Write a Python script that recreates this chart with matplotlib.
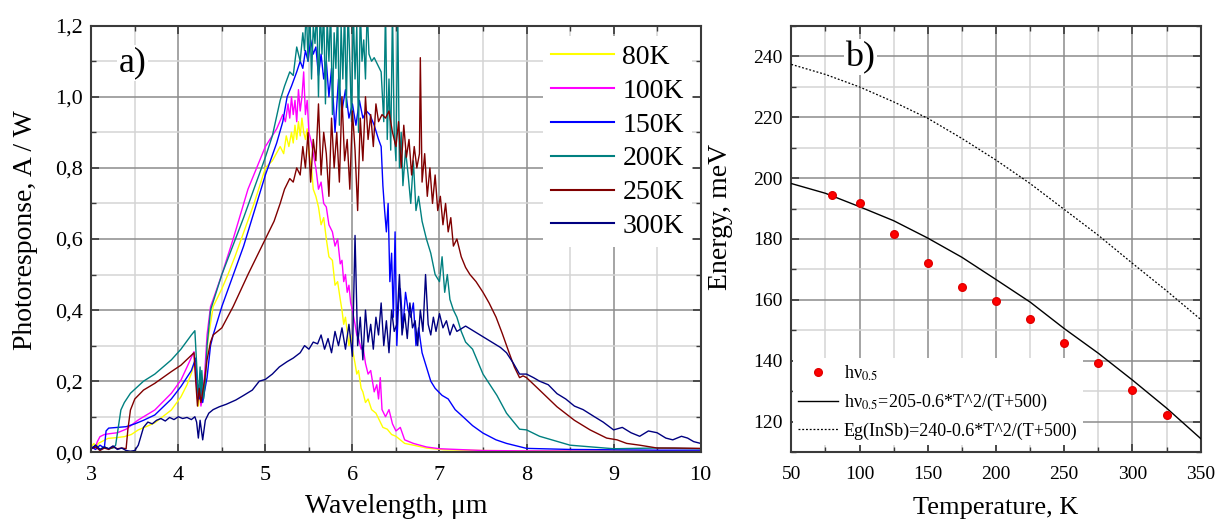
import matplotlib
matplotlib.use("Agg")
import matplotlib.pyplot as plt
from matplotlib import ticker

plt.rcParams['font.family'] = ['Liberation Serif', 'DejaVu Serif']
plt.rcParams['mathtext.fontset'] = 'stix'

# ---- a) photoresponse spectra ----
wl_80 = [3.00, 3.03, 3.06, 3.08, 3.12, 3.19, 3.28, 3.38, 3.46, 3.54,
         3.63, 3.73, 3.82, 3.92, 4.03, 4.10, 4.15, 4.19, 4.21, 4.23,
         4.245, 4.26, 4.28, 4.30, 4.34, 4.40, 4.50, 4.57, 4.65, 4.76,
         4.87, 5.00, 5.08, 5.17, 5.21, 5.24, 5.27, 5.30, 5.32, 5.34,
         5.36, 5.38, 5.40, 5.42, 5.44, 5.46, 5.48, 5.50, 5.53, 5.55,
         5.58, 5.61, 5.64, 5.67, 5.70, 5.73, 5.77, 5.80, 5.83, 5.86,
         5.88, 5.90, 5.92, 5.94, 5.96, 5.98, 6.00, 6.03, 6.05, 6.07,
         6.10, 6.12, 6.15, 6.18, 6.22, 6.27, 6.31, 6.35, 6.40, 6.45,
         6.50, 6.60, 6.70, 6.85, 7.05, 7.50, 8.00, 9.00, 10.0]
pr_80 = [0.015, 0.025, 0.012, 0.025, 0.030, 0.039, 0.041, 0.044, 0.050, 0.063,
         0.072, 0.083, 0.100, 0.119, 0.156, 0.190, 0.222, 0.255, 0.200, 0.130,
         0.160, 0.140, 0.170, 0.200, 0.316, 0.410, 0.460, 0.500, 0.550, 0.625,
         0.700, 0.800, 0.820, 0.860, 0.840, 0.890, 0.860, 0.900, 0.870, 0.920,
         0.880, 0.930, 0.890, 0.940, 0.900, 0.880, 0.910, 0.840, 0.800, 0.740,
         0.720, 0.690, 0.640, 0.660, 0.600, 0.550, 0.540, 0.470, 0.480, 0.430,
         0.400, 0.360, 0.380, 0.340, 0.300, 0.330, 0.290, 0.250, 0.220, 0.230,
         0.180, 0.170, 0.140, 0.150, 0.120, 0.110, 0.090, 0.070, 0.065, 0.050,
         0.045, 0.025, 0.020, 0.012, 0.007, 0.005, 0.004, 0.004, 0.004]

wl_100 = [3.00, 3.04, 3.07, 3.10, 3.15, 3.20, 3.30, 3.40, 3.54, 3.73,
          3.92, 4.03, 4.10, 4.18, 4.20, 4.22, 4.24, 4.26, 4.28, 4.30,
          4.33, 4.37, 4.40, 4.50, 4.63, 4.80, 5.00, 5.13, 5.20, 5.23,
          5.26, 5.28, 5.30, 5.32, 5.34, 5.36, 5.38, 5.40, 5.42, 5.44,
          5.46, 5.48, 5.50, 5.53, 5.55, 5.58, 5.61, 5.64, 5.67, 5.70,
          5.73, 5.77, 5.80, 5.83, 5.86, 5.88, 5.90, 5.92, 5.94, 5.96,
          5.98, 6.00, 6.03, 6.05, 6.07, 6.10, 6.12, 6.15, 6.18, 6.21,
          6.25, 6.28, 6.30, 6.32, 6.34, 6.38, 6.42, 6.46, 6.50, 6.55,
          6.60, 6.70, 6.85, 7.00, 7.50, 8.00, 9.00, 10.0]
pr_100 = [0.015, 0.010, 0.030, 0.044, 0.050, 0.052, 0.055, 0.065, 0.091, 0.119,
          0.166, 0.203, 0.240, 0.283, 0.220, 0.150, 0.190, 0.130, 0.160, 0.210,
          0.330, 0.410, 0.430, 0.500, 0.600, 0.740, 0.860, 0.910, 0.950, 0.930,
          0.980, 0.940, 1.000, 0.950, 0.990, 0.930, 1.020, 0.960, 1.000, 1.070,
          0.950, 0.990, 0.900, 0.870, 0.840, 0.800, 0.740, 0.760, 0.700, 0.690,
          0.640, 0.620, 0.580, 0.600, 0.530, 0.540, 0.480, 0.500, 0.450, 0.470,
          0.420, 0.400, 0.360, 0.330, 0.320, 0.290, 0.300, 0.250, 0.220, 0.230,
          0.170, 0.190, 0.150, 0.210, 0.120, 0.100, 0.120, 0.080, 0.060, 0.070,
          0.035, 0.025, 0.015, 0.010, 0.005, 0.004, 0.003, 0.003]

wl_150 = [3.00, 3.05, 3.10, 3.15, 3.17, 3.20, 3.30, 3.40, 3.50, 3.60,
          3.73, 3.92, 4.03, 4.15, 4.20, 4.22, 4.24, 4.26, 4.28, 4.30,
          4.33, 4.37, 4.40, 4.50, 4.75, 5.00, 5.13, 5.20, 5.25, 5.30,
          5.36, 5.40, 5.43, 5.46, 5.49, 5.52, 5.55, 5.58, 5.61, 5.64,
          5.67, 5.70, 5.73, 5.76, 5.80, 5.84, 5.88, 5.92, 5.96, 6.00,
          6.04, 6.08, 6.12, 6.16, 6.20, 6.25, 6.30, 6.33, 6.35, 6.37,
          6.39, 6.41, 6.43, 6.45, 6.47, 6.49, 6.51, 6.53, 6.55, 6.58,
          6.61, 6.64, 6.67, 6.70, 6.73, 6.76, 6.80, 6.85, 6.90, 6.95,
          7.03, 7.10, 7.18, 7.27, 7.38, 7.50, 7.65, 7.77, 8.00, 8.50,
          9.00, 9.50, 10.0]
pr_150 = [0.015, 0.008, 0.020, 0.012, 0.060, 0.068, 0.070, 0.072, 0.080, 0.090,
          0.105, 0.150, 0.185, 0.230, 0.265, 0.180, 0.150, 0.200, 0.140, 0.170,
          0.210, 0.300, 0.330, 0.410, 0.580, 0.780, 0.870, 0.930, 1.000, 1.030,
          1.070, 1.100, 1.080, 1.130, 1.100, 1.160, 1.120, 1.140, 1.060, 1.120,
          1.050, 1.100, 1.000, 1.080, 0.900, 1.050, 0.960, 1.020, 0.940, 0.980,
          0.920, 0.990, 0.940, 0.960, 0.950, 0.920, 0.880, 0.860, 0.750, 0.680,
          0.620, 0.700, 0.480, 0.560, 0.380, 0.620, 0.300, 0.420, 0.460, 0.350,
          0.450, 0.400, 0.380, 0.420, 0.300, 0.350, 0.280, 0.240, 0.200, 0.180,
          0.160, 0.150, 0.120, 0.100, 0.075, 0.054, 0.035, 0.025, 0.011, 0.008,
          0.007, 0.006, 0.006]

wl_200 = [3.00, 3.05, 3.10, 3.15, 3.20, 3.25, 3.28, 3.34, 3.38, 3.45,
          3.60, 3.73, 3.92, 4.03, 4.15, 4.19, 4.21, 4.23, 4.25, 4.26,
          4.27, 4.29, 4.31, 4.33, 4.37, 4.50, 4.75, 5.00, 5.08, 5.17,
          5.22, 5.28, 5.32, 5.36, 5.40, 5.43, 5.45, 5.47, 5.49, 5.51,
          5.53, 5.55, 5.57, 5.59, 5.61, 5.63, 5.65, 5.67, 5.69, 5.71,
          5.73, 5.75, 5.77, 5.79, 5.81, 5.83, 5.85, 5.87, 5.89, 5.91,
          5.93, 5.95, 5.97, 5.99, 6.01, 6.03, 6.05, 6.07, 6.09, 6.11,
          6.13, 6.15, 6.17, 6.19, 6.22, 6.25, 6.29, 6.33, 6.36, 6.38,
          6.40, 6.42, 6.44, 6.46, 6.48, 6.50, 6.52, 6.54, 6.56, 6.58,
          6.61, 6.64, 6.67, 6.70, 6.73, 6.76, 6.80, 6.85, 6.90, 6.95,
          7.00, 7.03, 7.06, 7.09, 7.12, 7.16, 7.20, 7.25, 7.30, 7.38,
          7.50, 7.66, 7.77, 7.92, 8.00, 8.15, 8.50, 9.00, 9.50, 10.0]
pr_200 = [0.010, 0.020, 0.008, 0.015, 0.010, 0.012, 0.020, 0.119, 0.140, 0.166,
          0.200, 0.220, 0.260, 0.290, 0.330, 0.342, 0.250, 0.150, 0.240, 0.160,
          0.230, 0.150, 0.200, 0.300, 0.400, 0.500, 0.660, 0.830, 0.890, 0.990,
          1.030, 1.070, 1.060, 1.140, 1.100, 1.180, 1.130, 1.250, 1.100, 1.250,
          1.050, 1.200, 1.150, 1.250, 1.000, 1.250, 1.120, 1.250, 0.980, 1.220,
          1.100, 1.250, 0.950, 1.180, 1.080, 1.250, 0.920, 1.200, 1.050, 1.250,
          0.970, 1.250, 1.100, 0.930, 1.250, 1.050, 1.200, 0.900, 1.250, 1.100,
          1.160, 1.050, 1.250, 1.120, 1.100, 1.110, 1.090, 1.070, 0.930, 1.250,
          0.880, 1.050, 0.850, 1.250, 0.900, 0.820, 1.250, 0.800, 0.900, 0.750,
          0.850, 0.780, 0.700, 0.820, 0.680, 0.720, 0.650, 0.600, 0.560, 0.500,
          0.480, 0.550, 0.450, 0.500, 0.430, 0.400, 0.380, 0.340, 0.310, 0.290,
          0.220, 0.160, 0.110, 0.065, 0.063, 0.045, 0.020, 0.010, 0.012, 0.010]

wl_250 = [3.00, 3.05, 3.10, 3.15, 3.20, 3.25, 3.30, 3.35, 3.40, 3.42,
          3.45, 3.50, 3.60, 3.73, 3.92, 4.03, 4.18, 4.20, 4.22, 4.24,
          4.26, 4.28, 4.30, 4.33, 4.37, 4.40, 4.50, 4.63, 4.80, 5.00,
          5.10, 5.17, 5.22, 5.28, 5.32, 5.36, 5.40, 5.43, 5.46, 5.49,
          5.52, 5.55, 5.58, 5.61, 5.64, 5.67, 5.70, 5.73, 5.76, 5.79,
          5.82, 5.85, 5.88, 5.91, 5.94, 5.97, 6.00, 6.03, 6.06, 6.09,
          6.12, 6.15, 6.18, 6.21, 6.24, 6.27, 6.30, 6.34, 6.38, 6.42,
          6.46, 6.50, 6.53, 6.56, 6.59, 6.62, 6.65, 6.68, 6.71, 6.74,
          6.77, 6.78, 6.80, 6.83, 6.86, 6.89, 6.92, 6.95, 6.98, 7.01,
          7.04, 7.07, 7.10, 7.13, 7.16, 7.20, 7.25, 7.30, 7.35, 7.42,
          7.50, 7.57, 7.65, 7.72, 7.80, 7.86, 7.92, 7.96, 8.00, 8.15,
          8.35, 8.55, 8.73, 8.92, 9.04, 9.15, 9.30, 9.50, 9.70, 10.0]
pr_250 = [0.010, 0.015, 0.005, 0.012, 0.008, 0.015, 0.010, 0.012, 0.010, 0.063,
          0.119, 0.150, 0.175, 0.194, 0.227, 0.245, 0.280, 0.200, 0.130, 0.180,
          0.140, 0.170, 0.200, 0.260, 0.310, 0.330, 0.350, 0.410, 0.500, 0.600,
          0.650, 0.700, 0.740, 0.770, 0.760, 0.800, 0.780, 0.860, 0.800, 0.900,
          0.760, 0.880, 0.820, 0.980, 0.780, 0.900, 0.840, 0.720, 0.940, 0.800,
          0.900, 0.760, 1.000, 0.820, 0.880, 0.740, 0.960, 0.850, 0.680, 0.940,
          0.820, 1.000, 0.880, 0.950, 0.860, 0.980, 0.930, 0.950, 0.940, 0.960,
          0.900, 0.860, 0.930, 0.800, 0.920, 0.830, 0.880, 0.780, 0.860, 0.800,
          0.840, 1.110, 0.760, 0.840, 0.720, 0.800, 0.700, 0.780, 0.680, 0.720,
          0.640, 0.700, 0.620, 0.660, 0.580, 0.600, 0.550, 0.520, 0.500, 0.480,
          0.450, 0.420, 0.380, 0.335, 0.280, 0.240, 0.210, 0.215, 0.210, 0.175,
          0.128, 0.090, 0.063, 0.040, 0.035, 0.025, 0.020, 0.012, 0.012, 0.011]

wl_300 = [3.00, 3.05, 3.10, 3.15, 3.20, 3.25, 3.30, 3.35, 3.40, 3.45,
          3.50, 3.54, 3.60, 3.65, 3.70, 3.75, 3.80, 3.85, 3.90, 3.95,
          4.00, 4.05, 4.10, 4.15, 4.19, 4.21, 4.23, 4.25, 4.28, 4.31,
          4.35, 4.40, 4.47, 4.55, 4.66, 4.75, 4.85, 4.93, 5.00, 5.08,
          5.16, 5.25, 5.32, 5.40, 5.45, 5.50, 5.55, 5.60, 5.64, 5.68,
          5.72, 5.76, 5.80, 5.84, 5.88, 5.92, 5.96, 6.00, 6.03, 6.06,
          6.09, 6.12, 6.15, 6.18, 6.21, 6.24, 6.27, 6.30, 6.33, 6.36,
          6.39, 6.42, 6.45, 6.48, 6.51, 6.54, 6.57, 6.60, 6.63, 6.66,
          6.69, 6.72, 6.75, 6.78, 6.81, 6.84, 6.87, 6.90, 6.93, 6.96,
          7.00, 7.04, 7.08, 7.12, 7.16, 7.20, 7.30, 7.40, 7.50, 7.60,
          7.70, 7.77, 7.85, 7.92, 8.00, 8.08, 8.15, 8.25, 8.35, 8.45,
          8.55, 8.65, 8.78, 8.88, 9.00, 9.10, 9.20, 9.30, 9.40, 9.50,
          9.60, 9.68, 9.78, 9.85, 9.92, 10.0]
pr_300 = [0.010, 0.020, 0.008, 0.015, 0.010, 0.018, 0.008, 0.012, 0.005, 0.003,
          0.005, 0.020, 0.070, 0.085, 0.080, 0.090, 0.095, 0.088, 0.098, 0.092,
          0.100, 0.095, 0.098, 0.092, 0.100, 0.085, 0.040, 0.090, 0.035, 0.090,
          0.110, 0.120, 0.128, 0.135, 0.147, 0.160, 0.175, 0.200, 0.205, 0.220,
          0.240, 0.255, 0.265, 0.280, 0.300, 0.290, 0.310, 0.305, 0.330, 0.290,
          0.320, 0.280, 0.340, 0.300, 0.350, 0.290, 0.360, 0.270, 0.610, 0.300,
          0.380, 0.260, 0.400, 0.310, 0.360, 0.290, 0.380, 0.330, 0.420, 0.300,
          0.370, 0.280, 0.400, 0.340, 0.360, 0.500, 0.330, 0.390, 0.320, 0.420,
          0.350, 0.370, 0.300, 0.400, 0.340, 0.500, 0.360, 0.330, 0.380, 0.340,
          0.390, 0.350, 0.370, 0.330, 0.360, 0.340, 0.355, 0.340, 0.325, 0.310,
          0.295, 0.280, 0.250, 0.220, 0.220, 0.210, 0.200, 0.190, 0.165, 0.150,
          0.130, 0.120, 0.100, 0.085, 0.063, 0.070, 0.055, 0.045, 0.060, 0.055,
          0.040, 0.035, 0.045, 0.040, 0.030, 0.025]

spectra = [(wl_80, pr_80, '80K', '#ffff00'),
           (wl_100, pr_100, '100K', '#ff00ff'),
           (wl_150, pr_150, '150K', '#0000ff'),
           (wl_200, pr_200, '200K', '#008080'),
           (wl_250, pr_250, '250K', '#800000'),
           (wl_300, pr_300, '300K', '#000080')]

# ---- b) energy vs temperature ----
temp_pts = [80, 100, 125, 150, 175, 200, 225, 250, 275, 300, 325]
hv_pts = [194.5, 191.9, 181.7, 172.1, 164.2, 159.5, 153.6, 145.9, 139.2, 130.4, 122.4]

temp_line = [50, 75, 100, 125, 150, 175, 200, 225, 250, 275, 300, 325, 350]
hv_fit = [198.2, 195.0, 190.6, 186.0, 180.3, 174.0, 166.7, 159.3, 150.6, 142.5, 133.7, 124.5, 114.5]
eg_insb = [237.3, 234.0, 229.9, 225.0, 219.6, 213.0, 205.9, 198.2, 189.7, 181.2, 172.0, 163.0, 153.6]


def comma(v, pos):
    return f"{v:.1f}".replace('.', ',')


def style_axes(ax, lbl_size):
    ax.grid(True, which='major', color='#8c8c8c', lw=1.1, zorder=0)
    ax.grid(True, which='minor', color='#d4d4d4', lw=1.1, zorder=0)
    ax.set_axisbelow(True)
    for s in ax.spines.values():
        s.set_color('#3a3a3a')
        s.set_linewidth(1.5)
    ax.tick_params(which='both', direction='in', top=True, right=True,
                   labelsize=lbl_size, colors='#3a3a3a', labelcolor='black')
    ax.tick_params(which='major', length=6, width=1.2, pad=6)
    ax.tick_params(which='minor', length=3.5, width=1.0)
    ax.tick_params(axis='x', which='major', pad=10)


fig = plt.figure(figsize=(12.17, 5.23), dpi=100)
ax1 = fig.add_axes([0.0750, 0.1352, 0.5007, 0.8157])
ax2 = fig.add_axes([0.6502, 0.1352, 0.3364, 0.8157])

for wl, pr, lab, col in spectra:
    ax1.plot(wl, pr, color=col, lw=1.0, label=lab)

ax1.set_xlim(3, 10)
ax1.set_ylim(0, 1.2)
ax1.xaxis.set_major_locator(ticker.MultipleLocator(1))
ax1.xaxis.set_minor_locator(ticker.MultipleLocator(0.5))
ax1.yaxis.set_major_locator(ticker.MultipleLocator(0.2))
ax1.yaxis.set_minor_locator(ticker.MultipleLocator(0.1))
ax1.yaxis.set_major_formatter(ticker.FuncFormatter(comma))
style_axes(ax1, 16)
ax1.set_xlabel('Wavelength, \u03bcm', fontsize=20, va='top')
ax1.xaxis.set_label_coords(0.5, -0.098)
ax1.set_ylabel('Photoresponse, A / W', fontsize=20)
ax1.yaxis.set_label_coords(-0.088, 0.522)
ax1.text(0.068, 0.913, 'a)', transform=ax1.transAxes, fontsize=26,
         va='center', ha='center', bbox=dict(fc='white', ec='none', pad=1))
leg1 = ax1.legend(loc='upper right', bbox_to_anchor=(0.986, 0.975), fontsize=20,
                  frameon=True, fancybox=False, framealpha=1, edgecolor='none',
                  handlelength=2.25, labelspacing=0.3, borderpad=0.3,
                  borderaxespad=0, handletextpad=0.3)
for h in leg1.get_lines():
    h.set_linewidth(1.5)

ax2.plot(temp_line, eg_insb, color='black', lw=0.9, ls=(0, (1.5, 1.5)),
         label='Eg(InSb)=240-0.6*T^2/(T+500)', zorder=3)
ax2.plot(temp_line, hv_fit, color='black', lw=1.0,
         label='h\u03bd$_{0.5}$=205-0.6*T^2/(T+500)', zorder=3)
ax2.plot(temp_pts, hv_pts, 'o', color='#ff0000', ms=5.5, mec='#e00000',
         label='h\u03bd$_{0.5}$', zorder=4)

ax2.set_xlim(50, 350)
ax2.set_ylim(110, 250)
ax2.xaxis.set_major_locator(ticker.MultipleLocator(50))
ax2.xaxis.set_minor_locator(ticker.MultipleLocator(25))
ax2.yaxis.set_major_locator(ticker.MultipleLocator(20))
ax2.yaxis.set_minor_locator(ticker.MultipleLocator(10))
style_axes(ax2, 14)
ax2.set_xlabel('Temperature, K', fontsize=19, va='top')
ax2.xaxis.set_label_coords(0.5, -0.105)
ax2.set_ylabel('Energy, meV', fontsize=20)
ax2.yaxis.set_label_coords(-0.142, 0.552)
ax2.text(0.168, 0.926, 'b)', transform=ax2.transAxes, fontsize=26,
         va='center', ha='center', bbox=dict(fc='white', ec='none', pad=1))
hnd, lbl = ax2.get_legend_handles_labels()
ax2.legend(hnd[::-1], lbl[::-1], loc='lower left', bbox_to_anchor=(0.003, 0.017),
           fontsize=13, frameon=True, fancybox=False, framealpha=1,
           edgecolor='none', handlelength=2.2, labelspacing=0.5,
           borderpad=0.3, borderaxespad=0, handletextpad=0.35)

fig.savefig('out.png', dpi=100)
